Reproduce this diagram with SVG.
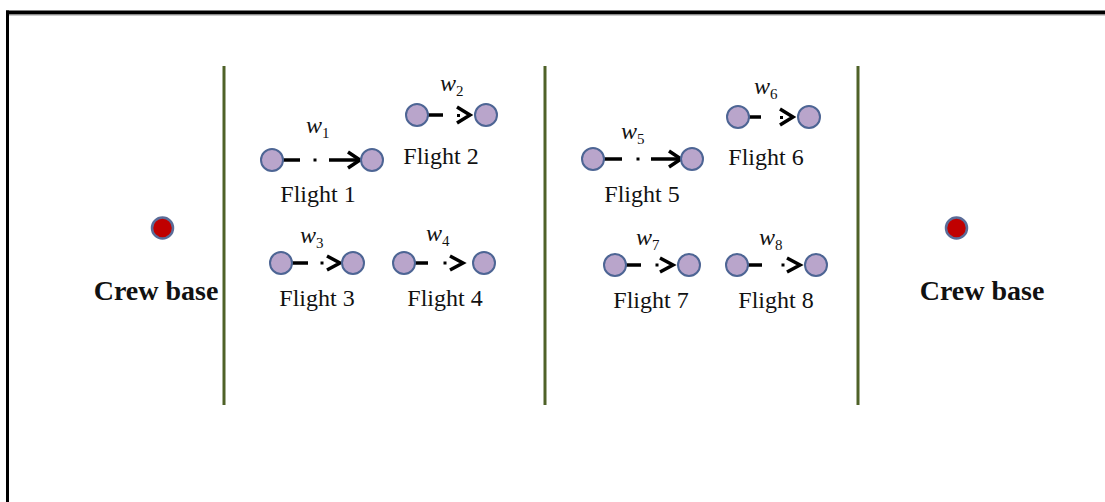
<svg xmlns="http://www.w3.org/2000/svg" width="1105" height="502" viewBox="0 0 1105 502">
<style>
.nd{fill:#B9A5CB;stroke:#4D6594;stroke-width:2}
.base{fill:#C00000;stroke:#5A6C98;stroke-width:2.5}
.sep{stroke:#4F6228;stroke-width:3}
.cn{stroke:#000;stroke-width:3.5;fill:none}
.ch{stroke:#000;stroke-width:3.5;fill:none;stroke-linejoin:miter}
.dt{fill:#000}
.lb{font-family:"Liberation Serif","Times New Roman",serif;font-size:24px;fill:#111;text-anchor:middle}
.cb{font-family:"Liberation Serif","Times New Roman",serif;font-size:28px;font-weight:bold;fill:#111;text-anchor:middle}
.w{font-family:"Liberation Serif","Times New Roman",serif;font-size:24px;font-style:italic;fill:#111}
.s{font-size:15px;font-style:normal}
</style>
<rect width="1105" height="502" fill="#fff"/>
<g id="frame">
<line x1="6" y1="12.5" x2="1105" y2="12.5" stroke="#000" stroke-width="4"/>
<line x1="6" y1="15" x2="1105" y2="15" stroke="#999" stroke-width="1"/>
<line x1="7.5" y1="10.5" x2="7.5" y2="502" stroke="#000" stroke-width="3"/>
</g>
<g id="separators">
<line class="sep" x1="224" y1="66" x2="224" y2="405"/>
<line class="sep" x1="545" y1="66" x2="545" y2="405"/>
<line class="sep" x1="858" y1="66" x2="858" y2="405"/>
</g>
<g id="connectors">
<line class="cn" x1="283" y1="160" x2="300" y2="160"/><rect class="dt" x="313.5" y="158.5" width="3" height="3"/><line class="cn" x1="329" y1="160" x2="357" y2="160"/><path class="ch" d="M348 152 L360 160 L348 168"/>
<line class="cn" x1="428" y1="115" x2="443" y2="115"/><rect class="dt" x="457" y="114" width="3" height="3"/><path class="ch" d="M457 107 L470 115 L457 123"/>
<line class="cn" x1="292" y1="263" x2="308" y2="263"/><rect class="dt" x="320.5" y="261.5" width="3" height="3"/><path class="ch" d="M327 256 L340 263 L327 270"/>
<line class="cn" x1="414" y1="263" x2="428" y2="263"/><rect class="dt" x="443.5" y="261.5" width="3" height="3"/><path class="ch" d="M450 256 L463 263 L450 270"/>
<line class="cn" x1="604" y1="159" x2="622" y2="159"/><rect class="dt" x="636.5" y="157.5" width="3" height="3"/><line class="cn" x1="651" y1="159" x2="678" y2="159"/><path class="ch" d="M669 151 L681 159 L669 167"/>
<line class="cn" x1="748" y1="117" x2="761" y2="117"/><rect class="dt" x="780" y="116" width="3" height="3"/><path class="ch" d="M780 109 L793 117 L780 125"/>
<line class="cn" x1="626" y1="265" x2="641" y2="265"/><rect class="dt" x="655.5" y="263.5" width="3" height="3"/><path class="ch" d="M660 258 L673 265 L660 272"/>
<line class="cn" x1="748" y1="265" x2="762" y2="265"/><rect class="dt" x="781.5" y="263.5" width="3" height="3"/><path class="ch" d="M787 258 L800 265 L787 272"/>
</g>
<g id="crew-base-left"><circle class="base" cx="162.5" cy="228" r="10.5"/><text class="cb" x="156" y="300">Crew base</text></g>
<g id="crew-base-right"><circle class="base" cx="956.5" cy="228" r="10.5"/><text class="cb" x="982" y="300">Crew base</text></g>
<g id="flight1"><circle class="nd" cx="272" cy="160" r="11"/><circle class="nd" cx="372" cy="160" r="11"/><text class="w" x="306" y="133">w<tspan class="s" dy="5">1</tspan></text><text class="lb" x="318" y="202">Flight 1</text></g>
<g id="flight2"><circle class="nd" cx="417" cy="115" r="11"/><circle class="nd" cx="486" cy="115" r="11"/><text class="w" x="440" y="91">w<tspan class="s" dy="5">2</tspan></text><text class="lb" x="441" y="164">Flight 2</text></g>
<g id="flight3"><circle class="nd" cx="281" cy="263" r="11"/><circle class="nd" cx="353" cy="263" r="11"/><text class="w" x="300" y="243">w<tspan class="s" dy="5">3</tspan></text><text class="lb" x="317" y="306">Flight 3</text></g>
<g id="flight4"><circle class="nd" cx="404" cy="263" r="11"/><circle class="nd" cx="484" cy="263" r="11"/><text class="w" x="426" y="241">w<tspan class="s" dy="5">4</tspan></text><text class="lb" x="445" y="306">Flight 4</text></g>
<g id="flight5"><circle class="nd" cx="593" cy="159" r="11"/><circle class="nd" cx="692" cy="159" r="11"/><text class="w" x="621" y="139">w<tspan class="s" dy="5">5</tspan></text><text class="lb" x="642" y="202">Flight 5</text></g>
<g id="flight6"><circle class="nd" cx="738" cy="117" r="11"/><circle class="nd" cx="809" cy="117" r="11"/><text class="w" x="754" y="94">w<tspan class="s" dy="5">6</tspan></text><text class="lb" x="766" y="165">Flight 6</text></g>
<g id="flight7"><circle class="nd" cx="615" cy="265" r="11"/><circle class="nd" cx="689" cy="265" r="11"/><text class="w" x="636" y="245">w<tspan class="s" dy="5">7</tspan></text><text class="lb" x="651" y="308">Flight 7</text></g>
<g id="flight8"><circle class="nd" cx="737" cy="265" r="11"/><circle class="nd" cx="816" cy="265" r="11"/><text class="w" x="759" y="245">w<tspan class="s" dy="5">8</tspan></text><text class="lb" x="776" y="308">Flight 8</text></g>
</svg>
